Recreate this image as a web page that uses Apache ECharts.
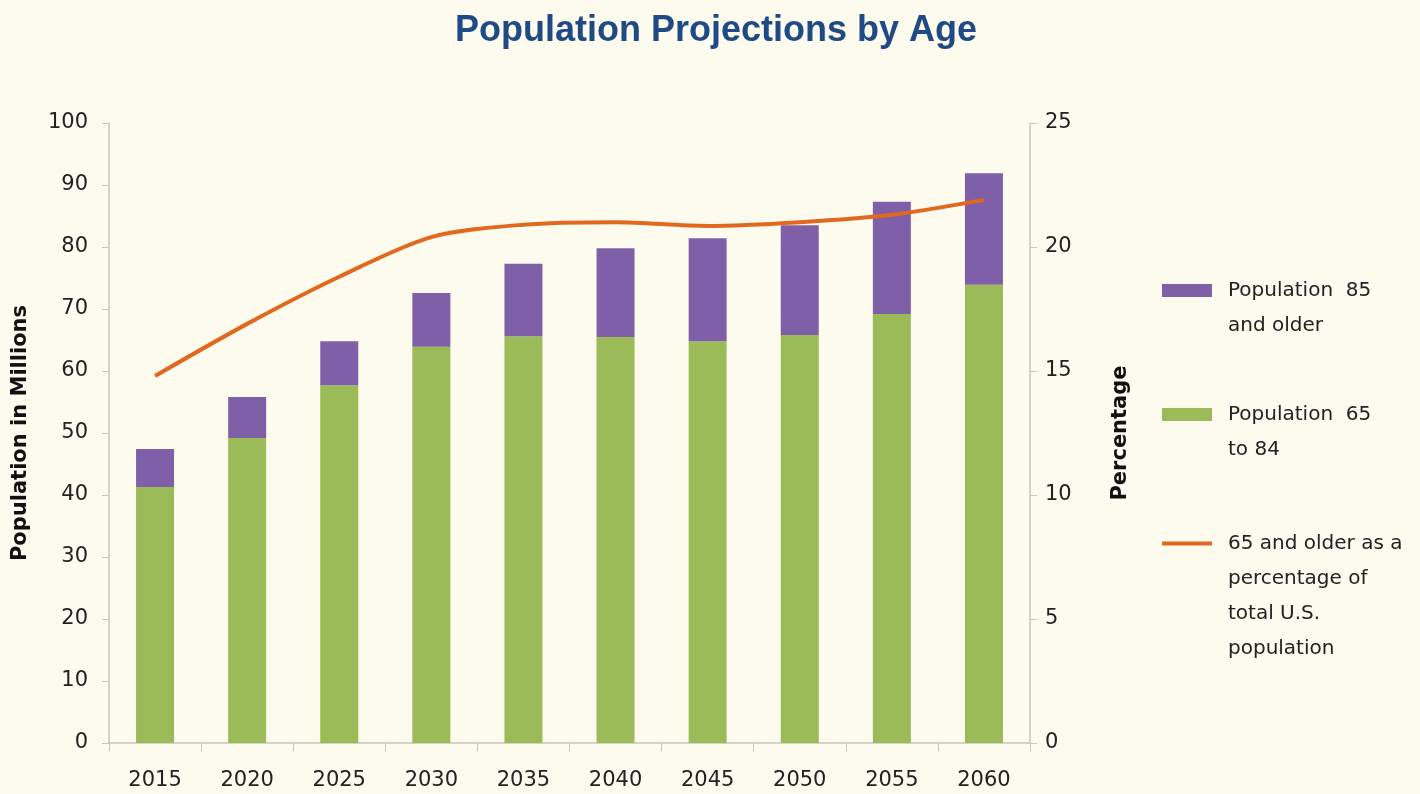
<!DOCTYPE html>
<html>
<head>
<meta charset="utf-8">
<script src="https://cdn.jsdelivr.net/npm/echarts@6/dist/echarts.min.js"></script>
<style>
html,body{margin:0;padding:0;background:#fdfaee;}
#chart{width:1420px;height:794px;}
</style>
</head>
<body>
<div id="chart"></div>
<script>
const years = ['2015','2020','2025','2030','2035','2040','2045','2050','2055','2060'];
const pop65to84 = [41.3, 49.2, 57.7, 63.9, 65.6, 65.5, 64.8, 65.8, 69.2, 73.9];
const pop85plus = [6.1, 6.6, 7.1, 8.7, 11.7, 14.3, 16.6, 17.7, 18.1, 18.0];
const pctOlder = [14.8, 16.9, 18.8, 20.4, 20.9, 21.0, 20.85, 21.0, 21.3, 21.9];
const leftTicks = [0,10,20,30,40,50,60,70,80,90,100];
const rightTicks = [0,5,10,15,20,25];

const FONT = '"DejaVu Sans", Verdana, sans-serif';
const TFONT = '"Liberation Sans", Arial, Helvetica, sans-serif';
const names = {
  p85: 'Population 85 and older',
  p65: 'Population 65 to 84',
  pct: '65 and older as a percentage of total U.S. population'
};
const legendText = {};
legendText[names.p85] = '\nPopulation  85\nand older';
legendText[names.p65] = '\nPopulation  65\nto 84';
legendText[names.pct] = '\n\n\n65 and older as a\npercentage of\ntotal U.S.\npopulation';

function mkLegend(name, top, icon, h) {
  return {
    data: [name], left: 1162, top: top, orient: 'vertical', padding: 0,
    icon: icon, itemWidth: 50, itemHeight: h, selectedMode: false,
    formatter: n => legendText[n],
    textStyle: { fontFamily: FONT, fontSize: 20, color: '#222', lineHeight: 35, padding: [0,0,0,11] }
  };
}

const chart = echarts.init(document.getElementById('chart'));
chart.setOption({
  backgroundColor: '#fdfaee',
  animation: false,
  title: {
    text: 'Population Projections by Age', left: 711, top: 8, textAlign: 'center',
    textStyle: { fontFamily: TFONT, fontSize: 36, fontWeight: 'bold', color: '#1f4a86' }
  },
  legend: [
    mkLegend(names.p85, 238, 'rect', 13),
    mkLegend(names.p65, 362, 'rect', 13),
    mkLegend(names.pct, 421, 'rect', 4)
  ],
  grid: { left: 109, right: 390, top: 123, bottom: 51, outerBoundsMode: 'none', containLabel: false },
  xAxis: {
    type: 'category', data: years, boundaryGap: true,
    axisLine: { lineStyle: { color: '#c8c6bd', width: 1.5 } },
    axisTick: { show: true, length: 8, lineStyle: { color: '#c8c6bd' } },
    axisLabel: { fontFamily: FONT, fontSize: 21, color: '#222', margin: 27 }
  },
  yAxis: [
    {
      type: 'value', min: 0, max: 100, interval: 10,
      name: 'Population in Millions', nameLocation: 'middle', nameGap: 78, nameRotate: 90,
      nameTextStyle: { fontFamily: FONT, fontSize: 21, fontWeight: 'bold', color: '#111' },
      axisLine: { show: true, lineStyle: { color: '#c8c6bd', width: 1.5 } },
      axisTick: { show: true, length: 7, lineStyle: { color: '#c8c6bd' } },
      axisLabel: { fontFamily: FONT, fontSize: 21, color: '#222', margin: 21,
        formatter: v => leftTicks.includes(v) ? String(v) : '' },
      splitLine: { show: false }
    },
    {
      type: 'value', min: 0, max: 25, interval: 5, position: 'right',
      name: 'Percentage', nameLocation: 'middle', nameGap: 80, nameRotate: 90,
      nameTextStyle: { fontFamily: FONT, fontSize: 21, fontWeight: 'bold', color: '#111' },
      axisLine: { show: true, lineStyle: { color: '#c8c6bd', width: 1.5 } },
      axisTick: { show: true, length: 7, lineStyle: { color: '#c8c6bd' } },
      axisLabel: { fontFamily: FONT, fontSize: 21, color: '#222', margin: 15,
        formatter: v => rightTicks.includes(v) ? String(v) : '' },
      splitLine: { show: false }
    }
  ],
  series: [
    {
      name: names.p65, type: 'bar', stack: 'pop', data: pop65to84, barWidth: 38,
      itemStyle: { color: '#9bbb59' }
    },
    {
      name: names.p85, type: 'bar', stack: 'pop', data: pop85plus, barWidth: 38,
      itemStyle: { color: '#7f60a8' }
    },
    {
      name: names.pct, type: 'line', yAxisIndex: 1, data: pctOlder, smooth: 0.3,
      symbol: 'none', lineStyle: { color: '#e0691f', width: 4 }, itemStyle: { color: '#e0691f' }
    }
  ]
});
</script>
</body>
</html>
